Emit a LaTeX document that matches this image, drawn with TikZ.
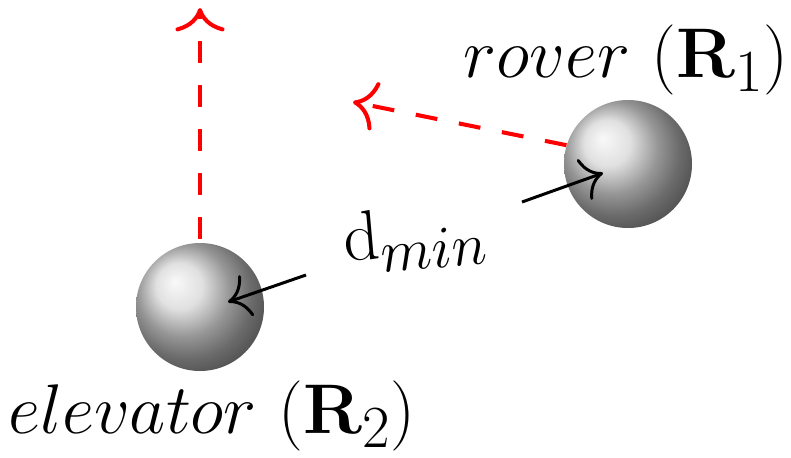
\documentclass[tikz,border=0pt]{standalone}
\usepackage{fix-cm}
\usepackage{amsmath}
\usepackage{amsfonts}
\DeclareMathSizes{40}{40}{34}{28}
\usetikzlibrary{positioning,shapes,arrows.meta}

\tikzset{
  robot/.style={circle,inner sep=0pt,minimum size=128*0.02cm,shading=ball,ball color=gray!32},
  heading/.style={red,line width=2.3pt,dash pattern=on 12.5pt off 12.5pt,-{To[scale=2]}},
  gap/.style={black,line width=1.7pt,-{To[scale=2.2]}},
  lbl/.style={font=\fontsize{40}{48}\selectfont,inner sep=0pt}
}

\begin{document}
\begin{tikzpicture}[x=0.02cm,y=-0.02cm]
  \useasboundingbox (0,0) rectangle (791,457);
  \node[robot] (R1) at (628,164) {};
  \node[robot] (R2) at (200,307) {};
  \node[lbl] (r1lbl) at (626,60) {$rover$ $(\mathbf{R}_1)$};
  \node[lbl] (r2lbl) at (212,416) {$elevator$ $(\mathbf{R}_2)$};
  \node[lbl,rotate=5] (dmin) at (415,238) {$\mathrm{d}_{min}$};
  \coordinate (h1) at (353,102);
  \coordinate (h2) at (200,8);
  \coordinate (a1) at (522,202);
  \coordinate (b1) at (603,173);
  \coordinate (a2) at (306,275);
  \coordinate (b2) at (228,302);
  \draw[heading] (R1.163) -- (h1);
  \draw[heading] (R2.north) ++(0,-4) -- (h2);
  \draw[gap] (a1) -- (b1);
  \draw[gap] (a2) -- (b2);
\end{tikzpicture}
\end{document}
